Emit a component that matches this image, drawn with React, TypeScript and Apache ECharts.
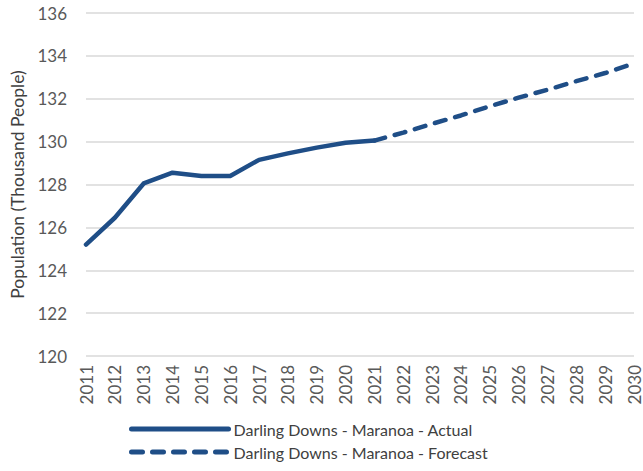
import React, { useEffect, useRef } from "react";
import * as echarts from "echarts";

const years = ["2011","2012","2013","2014","2015","2016","2017","2018","2019","2020","2021","2022","2023","2024","2025","2026","2027","2028","2029","2030"];
const actual = [125.2, 126.45, 128.05, 128.55, 128.4, 128.4, 129.15, 129.45, 129.72, 129.95, 130.05, null, null, null, null, null, null, null, null, null];
const forecast = [null, null, null, null, null, null, null, null, null, null, 130.05, 130.42, 130.83, 131.22, 131.65, 132.05, 132.42, 132.82, 133.2, 133.65];
const yTicks = { min: 120, max: 136, interval: 2 };
const seriesNames = ["Darling Downs - Maranoa - Actual", "Darling Downs - Maranoa - Forecast"];

const COLOR = "#1F4E87";
const FONT = "Lato";

const legendBase = {
  orient: "horizontal",
  left: 129,
  padding: 0,
  itemWidth: 97,
  itemHeight: 14,
  itemGap: 6,
  itemStyle: { opacity: 0 },
  lineStyle: { width: 5, cap: "round" },
  textStyle: { fontSize: 16, color: "#404040", fontFamily: FONT },
};

export default function App() {
  const ref = useRef<HTMLDivElement>(null);
  useEffect(() => {
    const chart = echarts.init(ref.current!, null, { renderer: "svg" });
    chart.setOption({
      animation: false,
      textStyle: { fontFamily: FONT },
      grid: { left: 86, right: 9, top: 13, bottom: 115 },
      xAxis: {
        type: "category",
        data: years,
        boundaryGap: false,
        axisLine: { show: false },
        axisTick: { show: false },
        axisLabel: { rotate: 90, fontSize: 17, lineHeight: 16, color: "#595959", margin: 9, fontFamily: FONT },
      },
      yAxis: {
        type: "value",
        min: yTicks.min,
        max: yTicks.max,
        interval: yTicks.interval,
        name: "Population (Thousand People)",
        nameLocation: "middle",
        nameGap: 60,
        nameTextStyle: { fontSize: 17.5, color: "#404040", fontFamily: FONT },
        axisLine: { show: false },
        axisTick: { show: false },
        axisLabel: { fontSize: 17, color: "#595959", margin: 19, fontFamily: FONT },
        splitLine: { lineStyle: { color: "#d9d9d9", width: 1.5 } },
      },
      legend: [
        { ...legendBase, top: 421, data: [seriesNames[0]] },
        { ...legendBase, top: 444, data: [seriesNames[1]] },
      ],
      series: [
        {
          name: seriesNames[0],
          type: "line",
          data: actual,
          symbol: "none",
          lineStyle: { color: COLOR, width: 4.5, cap: "round", join: "round" },
          itemStyle: { color: COLOR },
        },
        {
          name: seriesNames[1],
          type: "line",
          data: forecast,
          symbol: "none",
          lineStyle: { color: COLOR, width: 4.5, type: [11, 10], cap: "round", join: "round" },
          itemStyle: { color: COLOR },
        },
      ],
    });
    return () => chart.dispose();
  }, []);
  return <div ref={ref} style={{ position: "absolute", left: 0, top: 0, width: 643, height: 471 }} />;
}
